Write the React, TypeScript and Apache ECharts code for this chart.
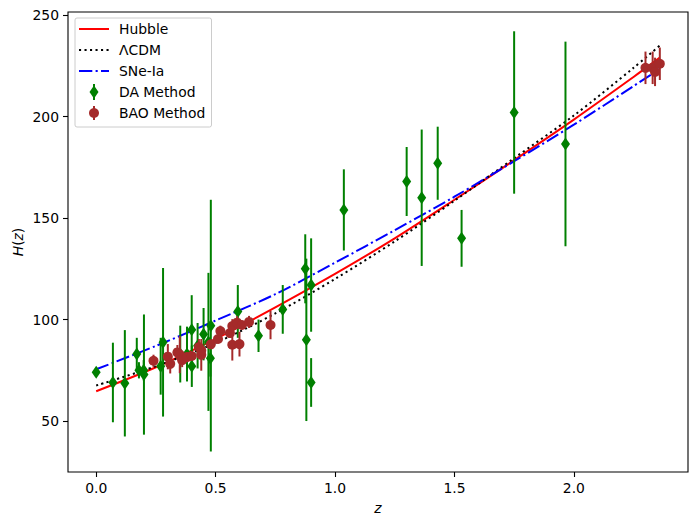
import React, { useEffect, useRef } from "react";
import * as echarts from "echarts";

// ---- Data ----
const daZ = [0, 0.07, 0.12, 0.17, 0.179, 0.199, 0.2, 0.27, 0.28, 0.352, 0.3802, 0.4, 0.4004, 0.4247, 0.4497, 0.47, 0.4783, 0.48, 0.593, 0.6797, 0.7812, 0.8754, 0.88, 0.9, 0.9, 1.037, 1.3, 1.363, 1.43, 1.53, 1.75, 1.965];
const daH = [74, 69, 68.6, 83, 75, 75, 72.9, 77, 88.8, 83, 83, 95, 77, 87.1, 92.8, 89, 80.9, 97, 104, 92, 105, 125, 90, 117, 69, 154, 168, 160, 177, 140, 202, 186.5];
const daErr = [1.4, 19.6, 26.2, 8, 4, 5, 29.6, 14, 36.6, 14, 13.5, 17, 10.2, 11.2, 12.9, 34, 9, 62, 13, 8, 12, 17, 40, 23, 12, 20, 17, 33.6, 18, 14, 40, 50.4];

const baoZ = [0.24, 0.3, 0.31, 0.34, 0.35, 0.36, 0.38, 0.4, 0.43, 0.44, 0.44, 0.48, 0.51, 0.52, 0.56, 0.57, 0.57, 0.59, 0.6, 0.61, 0.64, 0.73, 2.3, 2.33, 2.34, 2.36];
const baoH = [79.69, 81.7, 78.18, 83.8, 82.7, 79.94, 81.5, 82.04, 86.45, 82.6, 84.81, 87.79, 90.4, 94.35, 93.34, 87.6, 96.8, 98.48, 87.9, 97.3, 98.82, 97.3, 224, 224, 222, 226];
const baoErr = [2.99, 6.22, 4.74, 3.66, 9.1, 3.38, 1.9, 2.03, 3.97, 7.8, 1.83, 2.03, 1.9, 2.64, 2.3, 7.8, 3.4, 3.18, 6.1, 2.1, 2.98, 7.0, 8, 8, 7, 8];

const lineZ = [0, 0.25, 0.5, 0.75, 1.0, 1.25, 1.5, 1.75, 2.0, 2.25, 2.36];
const hubbleH = [64.7, 76.5, 90.5, 106, 122.5, 140, 159, 178.5, 198.5, 219.5, 229];
const lcdmH = [67.5, 77, 88.5, 103, 120, 138.5, 158.5, 179.5, 200.5, 224, 235];
const sneH = [75.5, 87, 99.5, 112.5, 128, 144, 160.5, 178, 196, 215, 223.5];

const xTicks = [0, 0.5, 1.0, 1.5, 2.0];
const yTicks = [50, 100, 150, 200, 250];

const legendNames = ["Hubble", "ΛCDM", "SNe-Ia", "DA Method", "BAO Method"];

const FONT = "DejaVu Sans";
const GREEN = "#008000";
const BROWN = "#a52a2a";

function errSeries(z: number[], h: number[], e: number[], color: string, zz: number) {
  return {
    type: "custom",
    z: zz,
    silent: true,
    data: z.map((v, i) => [v, h[i] - e[i], h[i] + e[i]]),
    renderItem: (params: any, api: any) => {
      const x = api.value(0);
      const lo = api.coord([x, api.value(1)]);
      const hi = api.coord([x, api.value(2)]);
      return {
        type: "line",
        shape: { x1: lo[0], y1: lo[1], x2: hi[0], y2: hi[1] },
        style: { stroke: color, lineWidth: 2 },
      };
    },
  };
}

export default function App() {
  const ref = useRef<HTMLDivElement>(null);
  useEffect(() => {
    if (!ref.current) return;
    const chart = echarts.init(ref.current, undefined, { renderer: "svg" });
    const lx = 79;
    const ly = [29, 50, 71, 92, 113];
    const graphics: any[] = [
      {
        type: "rect",
        shape: { x: 75, y: 18, width: 136.5, height: 109, r: 2 },
        style: { fill: "rgba(255,255,255,0.8)", stroke: "#cccccc", lineWidth: 1 },
        z: 100,
      },
      { type: "line", shape: { x1: lx, y1: ly[0], x2: lx + 30, y2: ly[0] }, style: { stroke: "#ff0000", lineWidth: 2 }, z: 101 },
      { type: "line", shape: { x1: lx, y1: ly[1], x2: lx + 30, y2: ly[1] }, style: { stroke: "#000", lineWidth: 2, lineDash: [2.1, 3.4] }, z: 101 },
      { type: "line", shape: { x1: lx, y1: ly[2], x2: lx + 30, y2: ly[2] }, style: { stroke: "#0000ff", lineWidth: 2, lineDash: [13.3, 3.3, 2.1, 3.3] }, z: 101 },
      { type: "line", shape: { x1: 94, y1: ly[3] - 8, x2: 94, y2: ly[3] + 8 }, style: { stroke: GREEN, lineWidth: 2 }, z: 101 },
      { type: "polygon", shape: { points: [[94, ly[3] - 6.5], [98.5, ly[3]], [94, ly[3] + 6.5], [89.5, ly[3]]] }, style: { fill: GREEN }, z: 102 },
      { type: "line", shape: { x1: 94, y1: ly[4] - 7, x2: 94, y2: ly[4] + 7 }, style: { stroke: BROWN, lineWidth: 2 }, z: 101 },
      { type: "circle", shape: { cx: 94, cy: ly[4], r: 5 }, style: { fill: BROWN }, z: 102 },
    ];
    legendNames.forEach((n, i) => {
      graphics.push({
        type: "text",
        x: 119,
        y: ly[i],
        style: { text: n, font: `13.9px '${FONT}'`, fill: "#000", verticalAlign: "middle", align: "left" },
        z: 103,
      });
    });
    graphics.push({
      type: "text",
      x: 18,
      y: 242,
      rotation: Math.PI / 2,
      style: {
        text: "{i|H}({i|z})",
        rich: { i: { fontStyle: "italic", fontFamily: FONT, fontSize: 13.9 } },
        fontFamily: FONT,
        fontSize: 13.9,
        fill: "#000",
        align: "center",
        verticalAlign: "middle",
      },
    });
    graphics.push({
      type: "text",
      x: 378,
      y: 508,
      style: {
        text: "z",
        fontFamily: FONT,
        fontStyle: "italic",
        fontSize: 13.9,
        fill: "#000",
        align: "center",
        verticalAlign: "middle",
      },
    });

    chart.setOption({
      animation: false,
      backgroundColor: "#fff",
      grid: { left: 68, right: 9, top: 12, bottom: 54, show: true, borderColor: "#000", borderWidth: 1.1, backgroundColor: "transparent" },
      xAxis: {
        type: "value",
        min: -0.118,
        max: 2.478,
        axisLine: { show: false, onZero: false },
        splitLine: { show: false },
        axisTick: { show: true, customValues: xTicks, length: 5, lineStyle: { color: "#000", width: 1.1 } },
        axisLabel: { customValues: xTicks, formatter: (v: number) => v.toFixed(1), color: "#000", fontFamily: FONT, fontSize: 13.9, margin: 9 },
      },
      yAxis: {
        type: "value",
        min: 24.9,
        max: 251.5,
        axisLine: { show: false, onZero: false },
        splitLine: { show: false },
        axisTick: { show: true, customValues: yTicks, length: 5, lineStyle: { color: "#000", width: 1.1 } },
        axisLabel: { customValues: yTicks, formatter: (v: number) => String(v), color: "#000", fontFamily: FONT, fontSize: 13.9, margin: 9 },
      },
      graphic: graphics,
      series: [
        {
          name: "Hubble",
          type: "line",
          data: lineZ.map((z, i) => [z, hubbleH[i]]),
          showSymbol: false,
          smooth: 0.3,
          lineStyle: { color: "#ff0000", width: 2 },
          z: 2,
        },
        {
          name: "ΛCDM",
          type: "line",
          data: lineZ.map((z, i) => [z, lcdmH[i]]),
          showSymbol: false,
          smooth: 0.3,
          lineStyle: { color: "#000000", width: 2, type: [2.1, 3.4] },
          z: 2,
        },
        {
          name: "SNe-Ia",
          type: "line",
          data: lineZ.map((z, i) => [z, sneH[i]]),
          showSymbol: false,
          smooth: 0.3,
          lineStyle: { color: "#0000ff", width: 2, type: [13.3, 3.3, 2.1, 3.3] },
          z: 2,
        },
        errSeries(daZ, daH, daErr, GREEN, 3),
        {
          name: "DA Method",
          type: "scatter",
          data: daZ.map((z, i) => [z, daH[i]]),
          symbol: "diamond",
          symbolSize: [9, 13],
          itemStyle: { color: GREEN, opacity: 1 },
          z: 4,
        },
        errSeries(baoZ, baoH, baoErr, BROWN, 5),
        {
          name: "BAO Method",
          type: "scatter",
          data: baoZ.map((z, i) => [z, baoH[i]]),
          symbol: "circle",
          symbolSize: 10,
          itemStyle: { color: BROWN, opacity: 1 },
          z: 6,
        },
      ],
    });
    return () => chart.dispose();
  }, []);
  return (
    <div
      ref={ref}
      style={{ position: "fixed", left: 0, top: 0, width: 697, height: 526, background: "#fff" }}
    />
  );
}
